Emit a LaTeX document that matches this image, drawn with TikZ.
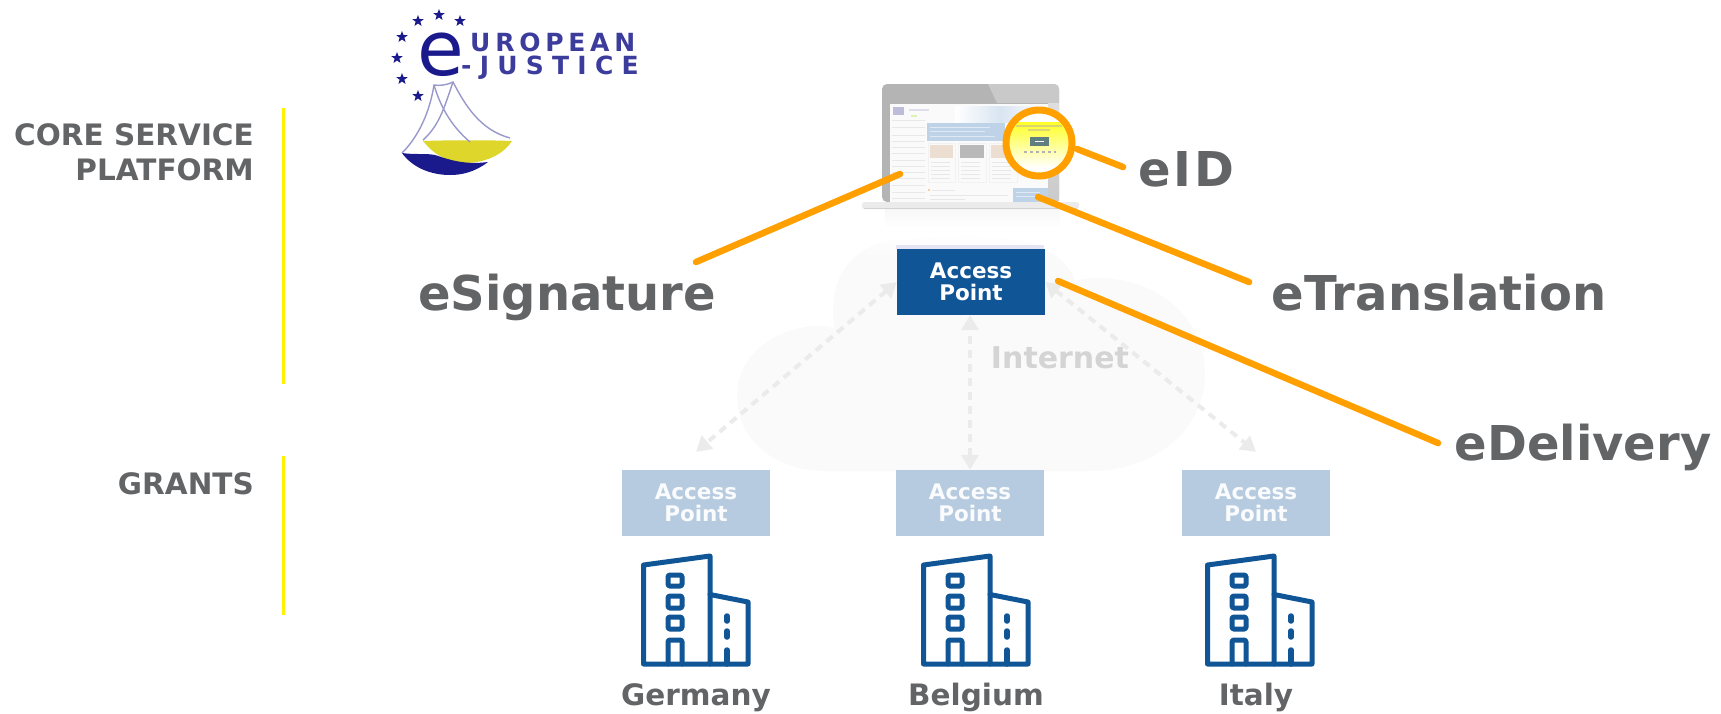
\documentclass[tikz,border=0pt]{standalone}
\usepackage{fontspec}
\setmainfont{DejaVu Sans}
\newfontfamily\logofont{DejaVu Sans}[LetterSpace=19]
\newfontfamily\logofontb{DejaVu Sans}[LetterSpace=33]
\newfontfamily\spacedbold{DejaVu Sans Bold}[LetterSpace=6]
\usetikzlibrary{arrows.meta,shapes.geometric}
\definecolor{txtgrey}{HTML}{636466}
\definecolor{apdark}{HTML}{105596}
\definecolor{aplight}{HTML}{B6CBDF}
\definecolor{orangeline}{HTML}{FFA000}
\definecolor{cloudc}{HTML}{FAFAFA}
\definecolor{arrowc}{HTML}{EBEBEB}
\definecolor{navy}{HTML}{1A1A8C}
\definecolor{barc}{HTML}{FFF200}
\definecolor{framea}{HTML}{B4B4B4}
\definecolor{frameb}{HTML}{C9C9C9}
\definecolor{scrl}{HTML}{E8E8E8}
\definecolor{scrblue}{HTML}{BFD3E8}
\tikzset{
  x=1pt,y=-1pt,
  apbox/.style={minimum width=148pt,minimum height=66pt,inner sep=0pt,align=center,
    font=\fontsize{21.5}{22.5}\selectfont\bfseries},
  bigtext/.style={inner sep=0pt,anchor=base,text=txtgrey,font=\fontsize{48}{48}\selectfont\bfseries},
  midtext/.style={inner sep=0pt,text=txtgrey,font=\fontsize{29.5}{35}\selectfont\bfseries},
  callout/.style={draw=orangeline,line width=6.5pt,line cap=round},
  linkarrow/.style={draw=arrowc,line width=4pt,dash pattern=on 8pt off 6pt,
    {Triangle[width=17pt,length=15pt]}-{Triangle[width=17pt,length=15pt]}},
  sidebar/.style={draw=barc,line width=3pt},
  eustar/.style={star,star points=5,star point ratio=2.4,fill=navy,inner sep=0pt,minimum size=12pt},
  bldline/.style={draw=apdark,line width=5pt,line join=round,line cap=round},
  scrline/.style={draw=scrl,line width=1pt},
  pics/tower/.style={code={
    \draw[bldline] (2.5,9) -- (69,0) -- (69,108) -- (2.5,108) -- cycle;
    \draw[bldline] (69,38.5) -- (107,46) -- (107,108) -- (69,108);
    \draw[bldline,rounded corners=1.5pt] (27,19) rectangle (41,30);
    \draw[bldline,rounded corners=1.5pt] (27,40) rectangle (41,52);
    \draw[bldline,rounded corners=1.5pt] (27,61) rectangle (41,73);
    \draw[bldline,rounded corners=1.5pt] (27,108) -- (27,84) -- (41,84) -- (41,108);
    \draw[bldline,line width=5.5pt] (86,60) -- (86,65);
    \draw[bldline,line width=5.5pt] (86,75) -- (86,81);
    \draw[bldline,line width=5.5pt] (86,94) -- (86,108);
  }}
}
\begin{document}
\begin{tikzpicture}
\useasboundingbox (0,0) rectangle (1721,713);

% side bars and their labels
\coordinate (b1a) at (283,108); \coordinate (b1b) at (283,384);
\coordinate (b2a) at (283,456); \coordinate (b2b) at (283,615);
\draw[sidebar] (b1a) -- (b1b);
\draw[sidebar] (b2a) -- (b2b);
\node[midtext,align=right,anchor=north east] (lcore) at (254,123.5) {CORE SERVICE\\PLATFORM};
\node[midtext,anchor=east] (lgrants) at (254,484) {GRANTS};

% cloud
\begin{scope}
\path[fill=cloudc,save path=\cloudpath] (825,471)
  .. controls (775,471) and (737,440) .. (737,396)
  .. controls (737,355) and (775,326) .. (820,326)
  .. controls (826,326) and (832,327) .. (834,328)
  .. controls (826,270) and (860,240) .. (905,240)
  .. controls (960,236) and (1030,236) .. (1045,250)
  .. controls (1062,258) and (1072,270) .. (1075,281)
  .. controls (1082,279) and (1090,278) .. (1097,278)
  .. controls (1160,278) and (1205,320) .. (1205,373)
  .. controls (1205,430) and (1155,471) .. (1090,471) -- cycle;
\clip[use path=\cloudpath];
\shade[top color=white,bottom color=cloudc] (820,232) rectangle (1090,256);
\end{scope}

% laptop
\shade[top color=black!3,bottom color=white] (885,209) rectangle (1060,228);
\fill[framea,rounded corners=5pt] (882,202) -- (882,84) -- (1059,84) -- (1059,202) -- cycle;
\fill[frameb] (988,84) -- (1054,84) .. controls (1057,84) and (1059,86) .. (1059,90) -- (1059,103) -- (997,103) -- cycle;
\shade[top color=frameb!60,bottom color=framea!70] (1048,103) rectangle (1059,200);
\fill[white!98!black] (890,104) rectangle (1048,205);
% screen content
\shade[left color=white,right color=scrblue!60] (955,106) rectangle (1000,122);
\shade[right color=white,left color=scrblue!60] (1000,106) rectangle (1048,122);
\fill[blue!30!gray!40] (893,107) rectangle (904,115);
\draw[line width=2pt,blue!30!gray!20] (909,110) -- (929,110);
\fill[yellow!60!green!30] (911,115) rectangle (917,117);
\foreach \yy in {120,127,135,141,147,153,160,166,172,178,185,192,198}{
  \draw[scrline] (892,\yy) -- (925,\yy);
}
\fill[scrblue] (927,123) rectangle (1005,141);
\draw[white!50!scrblue,line width=1pt] (930,127) -- (990,127) (930,131) -- (985,131) (930,136) -- (995,136);
\fill[orange!40!gray!25] (930,145) rectangle (953,158);
\fill[gray!55] (960,145) rectangle (984,158);
\fill[orange!40!gray!25] (991,145) rectangle (1015,158);
\draw[gray!10,line width=.7pt] (928,143) rectangle (955,182) (958,143) rectangle (986,182) (989,143) rectangle (1017,182);
\foreach \xa in {931,961,992}{
  \foreach \yy in {162,166,170,174,178}{
    \draw[scrline] (\xa,\yy) -- ++(19,0);
  }
}
\fill[orange!40] (928,189) rectangle (930,191);
\draw[scrline] (932,190) -- (955,190);
\draw[scrline] (930,195) -- (1008,195);
\draw[scrline] (930,199) -- (965,199);
\fill[scrblue] (1013,188) rectangle (1048,202);
\draw[white!50!scrblue,line width=1pt] (1016,192) -- (1040,192) (1016,196) -- (1040,196);
\fill[white!92!black,rounded corners=2.5pt] (862,202) rectangle (1079,209);
\draw[gray!35,line width=1pt] (864,208.5) -- (1077,208.5);

% highlighted area of the screen
\begin{scope}
  \clip (1039,143) circle[radius=33];
  \fill[white] (1000,105) rectangle (1080,185);
  \shade[top color=yellow!85,bottom color=white] (1000,122) rectangle (1080,168);
  \draw[yellow!60!gray!80,line width=2pt] (1016,126) -- (1062,126);
  \draw[yellow!60!gray!80,line width=2pt] (1028,130) -- (1050,130);
  \fill[gray!75!teal] (1030,137) rectangle (1049,146);
  \draw[white,line width=1pt] (1035,141.5) -- (1044,141.5);
  \draw[gray!60,line width=1.5pt,dash pattern=on 3pt off 3pt] (1024,152) -- (1056,152);
\end{scope}

% logo
\node[inner sep=0pt,text=navy,font=\fontsize{76}{76}\selectfont] (elogo) at (441,55) {e};
\node[inner sep=0pt,anchor=west,text=navy!85!white,font=\fontsize{25}{25}\selectfont\logofont\bfseries] (euro) at (470,42) {UROPEAN};
\node[inner sep=0pt,anchor=west,text=navy!85!white,font=\fontsize{25}{25}\selectfont\logofontb\bfseries] (just) at (461,68) {-JUSTICE};
\foreach \nm/\sx/\sy in {s1/439/15,s2/418/21,s3/460/21,s4/402/37,s5/397/58,s6/402/79,s7/418/96}{
  \node[eustar] (\nm) at (\sx,\sy) {};
}
% scales
\fill[yellow!85!black!95] (423,141) .. controls (450,140) and (490,140) .. (512,141)
  .. controls (505,152) and (490,162) .. (467,163) .. controls (445,163) and (432,152) .. (423,141) -- cycle;
\fill[navy] (402,153) .. controls (415,155) and (425,153) .. (435,155)
  .. controls (450,160) and (465,165) .. (488,162)
  .. controls (475,172) and (462,175) .. (450,175)
  .. controls (430,175) and (412,167) .. (402,153) -- cycle;
\draw[navy!45,line width=1.4pt]
  (402,153) .. controls (420,135) and (430,110) .. (434,85)
  .. controls (440,86) and (447,85) .. (453,82)
  .. controls (465,105) and (480,130) .. (510,138);
\draw[navy!45,line width=1.4pt]
  (434,85) .. controls (440,105) and (450,125) .. (470,142);
\draw[navy!45,line width=1.4pt]
  (453,82) .. controls (445,105) and (440,125) .. (423,140);

% access points
\node[apbox,fill=apdark,text=white] (apc) at (971,282) {Access\\Point};
\fill[blue!40!gray!15] (896,245) rectangle (1044,249);
\node[apbox,fill=aplight,text=white!92!aplight] (ap1) at (696,503) {Access\\Point};
\node[apbox,fill=aplight,text=white!92!aplight] (ap2) at (970,503) {Access\\Point};
\node[apbox,fill=aplight,text=white!92!aplight] (ap3) at (1256,503) {Access\\Point};

% links
\draw[linkarrow] (apc.west) -- ([yshift=18pt]ap1.north);
\draw[linkarrow] (ap2.north) -- (ap2.north |- apc.south);
\draw[linkarrow] (apc.east) -- ([yshift=18pt]ap3.north);
\node[inner sep=0pt,text=black!17,font=\fontsize{30}{30}\selectfont\bfseries] (inet) at (1060,358) {Internet};

% orange callouts
\node[bigtext] (lsig) at (567,310.5) {eSignature};
\node[bigtext] (ltrans) at (1439,310.5) {eTranslation};
\node[bigtext] (ldel) at (1583,460) {eDelivery};
\node[bigtext,font=\fontsize{48}{48}\selectfont\spacedbold] (lid) at (1186,186) {eID};
\coordinate (csig) at (696,262); \coordinate (psig) at (900,174);
\coordinate (ctrans) at (1249,282); \coordinate (ptrans) at (1038,197);
\coordinate (cdel) at (1438,443); \coordinate (pdel) at (1058,281);
\coordinate (cid) at (1123,167); \coordinate (pid) at (1077,149);
\draw[callout] (csig) -- (psig);
\draw[callout] (ctrans) -- (ptrans);
\draw[callout] (cdel) -- (pdel);
\draw[callout] (cid) -- (pid);
\draw[draw=orangeline,line width=7pt] (1039,143) circle[radius=33];

% buildings and countries
\pic at (641,556) {tower};
\pic at (921,556) {tower};
\pic at (1205,556) {tower};
\node[midtext,anchor=base] (g1) at (696,705) {Germany};
\node[midtext,anchor=base] (g2) at (976,705) {Belgium};
\node[midtext,anchor=base] (g3) at (1256,705) {Italy};
\end{tikzpicture}
\end{document}
